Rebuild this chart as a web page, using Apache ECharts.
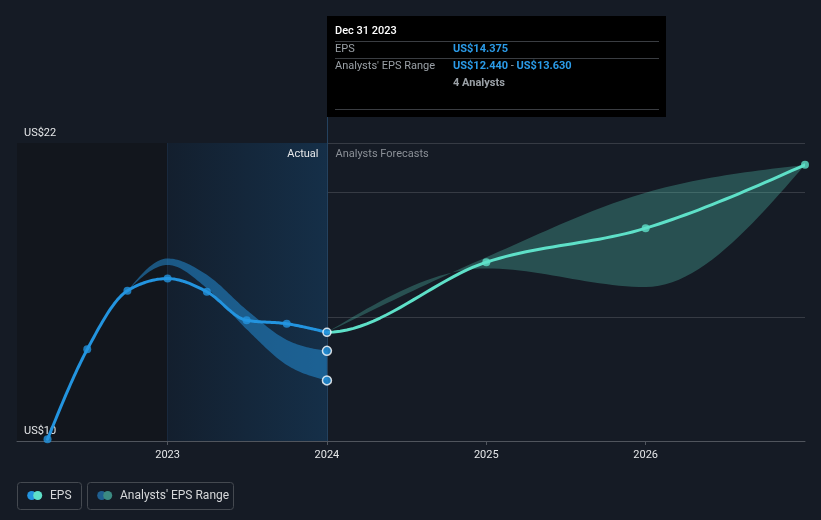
<!DOCTYPE html>
<html>
<head>
<meta charset="utf-8">
<script src="https://cdn.jsdelivr.net/npm/echarts@6/dist/echarts.min.js"></script>
<style>
html,body{margin:0;padding:0;background:#151b25;}
#chart{width:821px;height:520px;}
</style>
</head>
<body>
<div id="chart"></div>
<script>
// ---- data ----
const actualDates = ['2022-03-31','2022-06-30','2022-09-30','2022-12-31','2023-03-31','2023-06-30','2023-09-30','2023-12-31'];
const epsActual = [10.07, 13.69, 16.05, 16.54, 16.01, 14.86, 14.72, 14.375];

const pastRangeDates = ['2022-09-30','2022-12-31','2023-03-31','2023-06-30','2023-09-30','2023-12-31'];
const pastRangeLow  = [16.05, 17.09, 16.15, 14.50, 13.06, 12.44];
const pastRangeHigh = [16.05, 17.35, 16.69, 15.28, 14.07, 13.63];

const forecastDates = ['2023-12-31','2024-12-31','2025-12-31','2026-12-31'];
const epsForecast   = [14.375, 17.20, 18.57, 21.12];
const forecastLow   = [14.375, 16.95, 16.20, 21.12];
const forecastHigh  = [14.375, 17.40, 20.00, 21.12];

const xTickYears  = [2023, 2024, 2025, 2026];
const xTickLabels = ['2023', '2024', '2025', '2026'];
const yTickValues = [10, 22];
const yTickLabels = ['US$10', 'US$22'];

const tooltipTitle = 'Dec 31 2023';
const tooltipEps = 'US$14.375';
const tooltipRangeLow = 'US$12.440';
const tooltipRangeHigh = 'US$13.630';
const tooltipAnalysts = '4 Analysts';

// ---- helpers ----
function toYear(s) {
  const [y, m, d] = s.split('-').map(Number);
  const start = Date.UTC(y, 0, 1), end = Date.UTC(y + 1, 0, 1);
  return y + (Date.UTC(y, m - 1, d) + 86400000 - start) / (end - start);
}
// monotone cubic (d3 monotoneX style) sampling in pixel space; skipLead drops first segment
function monotoneSample(pts, steps, skipLead) {
  const n = pts.length;
  if (n < 2) return pts.slice();
  const h = [], d = [];
  for (let i = 0; i < n - 1; i++) {
    h.push(pts[i + 1][0] - pts[i][0]);
    d.push((pts[i + 1][1] - pts[i][1]) / h[i]);
  }
  const m = new Array(n);
  for (let i = 1; i < n - 1; i++) {
    const s0 = d[i - 1], s1 = d[i];
    const p = (s0 * h[i] + s1 * h[i - 1]) / (h[i - 1] + h[i]);
    m[i] = (Math.sign(s0) + Math.sign(s1)) * Math.min(Math.abs(s0), Math.abs(s1), 0.5 * Math.abs(p)) || 0;
  }
  if (n === 2) { m[0] = d[0]; m[1] = d[0]; }
  else {
    m[0] = (3 * d[0] - m[1]) / 2;
    m[n - 1] = (3 * d[n - 2] - m[n - 2]) / 2;
  }
  const out = [];
  for (let i = skipLead ? 1 : 0; i < n - 1; i++) {
    const x0 = pts[i][0], y0 = pts[i][1], y1 = pts[i + 1][1], hh = h[i];
    for (let s = 0; s < steps; s++) {
      const t = s / steps, t2 = t * t, t3 = t2 * t;
      const y = (2 * t3 - 3 * t2 + 1) * y0 + (t3 - 2 * t2 + t) * hh * m[i] +
                (-2 * t3 + 3 * t2) * y1 + (t3 - t2) * hh * m[i + 1];
      out.push([x0 + t * hh, y]);
    }
  }
  out.push(pts[n - 1].slice());
  return out;
}

const X_MIN = 2022.055, X_MAX = 2027.0;
const BLUE = '#2394df', TEAL = '#5ee0c8';
const FONT = 'Roboto, "Noto Sans", sans-serif';

const actualPts = actualDates.map((d, i) => [toYear(d), epsActual[i]]);
const pastLowPts = pastRangeDates.map((d, i) => [toYear(d), pastRangeLow[i]]);
const pastHighPts = pastRangeDates.map((d, i) => [toYear(d), pastRangeHigh[i]]);
const fcPts = forecastDates.map((d, i) => [toYear(d), epsForecast[i]]);
const fcLowPts = forecastDates.map((d, i) => [toYear(d), forecastLow[i]]);
const fcHighPts = forecastDates.map((d, i) => [toYear(d), forecastHigh[i]]);
const lastDate = toYear(actualDates[actualDates.length - 1]);
const endMarkers = [[lastDate, pastRangeHigh[pastRangeHigh.length - 1]], [lastDate, pastRangeLow[pastRangeLow.length - 1]]];

function bandSeries(name, lowPts, highPts, color) {
  return {
    name, type: 'custom', silent: true, clip: true, z: 1,
    data: [highPts[0]],
    renderItem: function (params, api) {
      const up = monotoneSample(highPts.map(p => api.coord(p)), 24);
      const lo = monotoneSample(lowPts.map(p => api.coord(p)), 24).reverse();
      return { type: 'polygon', shape: { points: up.concat(lo) }, style: { fill: color } };
    }
  };
}
function lineSeries(name, pts, color, leadPt) {
  return {
    name, type: 'custom', silent: true, clip: true, z: 3,
    data: [pts[0]],
    renderItem: function (params, api) {
      const src = leadPt ? [leadPt].concat(pts) : pts;
      const pp = monotoneSample(src.map(p => api.coord(p)), 24, !!leadPt);
      return { type: 'polyline', shape: { points: pp },
        style: { stroke: color, lineWidth: 3, fill: null, lineJoin: 'round', lineCap: 'round' } };
    }
  };
}

const actualSymbols = actualPts.map((p, i) => {
  const o = { value: p };
  if (i === actualPts.length - 1) o.itemStyle = { borderColor: '#ffffff', borderWidth: 1.5 };
  return o;
});

const chart = echarts.init(document.getElementById('chart'), null, { renderer: 'canvas' });

chart.setOption({
  backgroundColor: '#151b25',
  animation: false,
  textStyle: { fontFamily: FONT },
  grid: { left: 17, right: 16, top: 143, bottom: 79, containLabel: false },
  xAxis: {
    type: 'value', min: X_MIN, max: X_MAX,
    axisLine: { show: true, lineStyle: { color: '#50555d', width: 1 } },
    axisTick: { show: true, customValues: xTickYears, length: 4, lineStyle: { color: '#50555d' } },
    axisLabel: {
      customValues: xTickYears, color: '#e4e6e8', fontSize: 11, margin: 9, fontFamily: FONT,
      formatter: v => { const i = xTickYears.findIndex(t => Math.abs(t - v) < 1e-6); return i >= 0 ? xTickLabels[i] : ''; }
    },
    splitLine: { show: false }
  },
  yAxis: {
    type: 'value', min: 10, max: 22, interval: 5,
    axisLine: { show: false }, axisTick: { show: false },
    axisLabel: {
      customValues: yTickValues, showMinLabel: true, showMaxLabel: true,
      inside: true, margin: 7, color: '#e4e6e8', fontSize: 11, fontFamily: FONT,
      verticalAlign: 'bottom', padding: [0, 0, 4, 0],
      formatter: v => { const i = yTickValues.findIndex(t => Math.abs(t - v) < 1e-6); return i >= 0 ? yTickLabels[i] : ''; }
    },
    splitLine: { show: true, lineStyle: { color: '#363b44', width: 1 } }
  },
  series: [
    {
      name: 'bg', type: 'line', data: [], silent: true, z: 0,
      markArea: {
        silent: true, z: 0,
        data: [
          [{ xAxis: X_MIN, itemStyle: { color: '#12161d' } }, { xAxis: 2023 }],
          [{ xAxis: 2023, itemStyle: { color: { type: 'linear', x: 0, y: 0, x2: 1, y2: 0,
              colorStops: [{ offset: 0, color: '#131f2e' }, { offset: 1, color: '#152f48' }] } } }, { xAxis: 2024 }]
        ]
      },
      markLine: {
        silent: true, symbol: 'none', label: { show: false }, z: 0,
        lineStyle: { color: '#19293d', width: 1, type: 'solid' },
        data: [{ xAxis: 2023 }]
      }
    },
    bandSeries('pastRange', pastLowPts, pastHighPts, 'rgba(35,148,223,0.5)'),
    bandSeries('forecastRange', fcLowPts, fcHighPts, 'rgba(94,224,200,0.27)'),
    lineSeries('EPS forecast line', fcPts, TEAL, actualPts[actualPts.length - 2]),
    lineSeries('EPS line', actualPts, BLUE),
    { name: 'EPS forecast', type: 'scatter', z: 4, data: fcPts.slice(1), symbolSize: 8,
      itemStyle: { color: TEAL } },
    { name: 'EPS', type: 'scatter', z: 4, data: actualSymbols, symbolSize: 8,
      itemStyle: { color: BLUE } },
    { name: 'rangeEnds', type: 'scatter', z: 4, data: endMarkers, symbolSize: 9,
      itemStyle: { color: BLUE, borderColor: '#ffffff', borderWidth: 1.5 } }
  ]
});

// ---- overlays anchored to axis positions ----
const px = chart.convertToPixel({ xAxisIndex: 0, yAxisIndex: 0 }, [2024, 22]);
const lx = Math.round(px[0]) + 0.5;
const topY = px[1];
const bottomY = chart.convertToPixel({ xAxisIndex: 0, yAxisIndex: 0 }, [2024, 10])[1];
const boxW = 339, boxY = 16, boxH = 101;

const labelStyle = { fontFamily: FONT, fontSize: 11, fill: '#9aa0a6', verticalAlign: 'middle' };
chart.setOption({
  graphic: [
    { type: 'line', silent: true, z: 2, shape: { x1: lx, y1: boxY + boxH, x2: lx, y2: bottomY },
      style: { stroke: '#24425f', lineWidth: 1 } },
    { type: 'text', silent: true, z: 50, x: lx - 9, y: topY + 11,
      style: { text: 'Actual', fontFamily: FONT, fontSize: 11, fill: '#e6e8ea', align: 'right', verticalAlign: 'middle' } },
    { type: 'text', silent: true, z: 50, x: lx + 8, y: topY + 11,
      style: { text: 'Analysts Forecasts', fontFamily: FONT, fontSize: 11, fill: '#8b9097', align: 'left', verticalAlign: 'middle' } },
    {
      type: 'group', x: lx - 0.5, y: boxY, z: 100, silent: true,
      children: [
        { type: 'rect', shape: { x: 0, y: 0, width: boxW, height: boxH }, style: { fill: '#000000' } },
        { type: 'text', x: 8, y: 15, style: { text: tooltipTitle, fontFamily: FONT, fontSize: 11, fontWeight: 500, fill: '#ffffff', verticalAlign: 'middle' } },
        { type: 'line', shape: { x1: 8, y1: 25.5, x2: boxW - 7, y2: 25.5 }, style: { stroke: '#3a3d42', lineWidth: 1 } },
        { type: 'text', x: 8, y: 33.5, style: Object.assign({ text: 'EPS' }, labelStyle) },
        { type: 'text', x: 126, y: 33.5, style: { text: tooltipEps, fontFamily: FONT, fontSize: 11, fontWeight: 'bold', fill: '#2b9be8', verticalAlign: 'middle' } },
        { type: 'line', shape: { x1: 8, y1: 42.5, x2: boxW - 7, y2: 42.5 }, style: { stroke: '#3a3d42', lineWidth: 1 } },
        { type: 'text', x: 8, y: 50, style: Object.assign({ text: "Analysts' EPS Range" }, labelStyle) },
        { type: 'text', x: 126, y: 50, style: {
            text: '{v|' + tooltipRangeLow + '}{s| - }{v|' + tooltipRangeHigh + '}',
            verticalAlign: 'middle',
            rich: {
              v: { fontFamily: FONT, fontSize: 11, fontWeight: 'bold', fill: '#2b9be8', color: '#2b9be8' },
              s: { fontFamily: FONT, fontSize: 11, fill: '#9aa0a6', color: '#9aa0a6' }
            } } },
        { type: 'text', x: 126, y: 67, style: { text: tooltipAnalysts, fontFamily: FONT, fontSize: 11, fontWeight: 'bold', fill: '#9aa0a6', verticalAlign: 'middle' } },
        { type: 'line', shape: { x1: 8, y1: 93.5, x2: boxW - 7, y2: 93.5 }, style: { stroke: '#3a3d42', lineWidth: 1 } }
      ]
    },
    // legend
    { type: 'rect', silent: true, shape: { x: 17.5, y: 482.5, width: 64, height: 27, r: 3 }, style: { fill: 'none', stroke: '#444950', lineWidth: 1 } },
    { type: 'circle', silent: true, shape: { cx: 31.7, cy: 495.5, r: 4.5 }, style: { fill: BLUE } },
    { type: 'circle', silent: true, shape: { cx: 37.7, cy: 495.5, r: 4.5 }, style: { fill: TEAL } },
    { type: 'text', silent: true, x: 50, y: 495.5, style: { text: 'EPS', fontFamily: FONT, fontSize: 12, fill: '#d6d8da', verticalAlign: 'middle' } },
    { type: 'rect', silent: true, shape: { x: 87.5, y: 482.5, width: 146, height: 27, r: 3 }, style: { fill: 'none', stroke: '#444950', lineWidth: 1 } },
    { type: 'circle', silent: true, shape: { cx: 101.7, cy: 495.5, r: 4.5 }, style: { fill: '#1f5f90' } },
    { type: 'circle', silent: true, shape: { cx: 107.7, cy: 495.5, r: 4.5 }, style: { fill: '#3b8a82' } },
    { type: 'text', silent: true, x: 120, y: 495.5, style: { text: "Analysts' EPS Range", fontFamily: FONT, fontSize: 12, fill: '#d6d8da', verticalAlign: 'middle' } }
  ]
});
</script>
</body>
</html>
